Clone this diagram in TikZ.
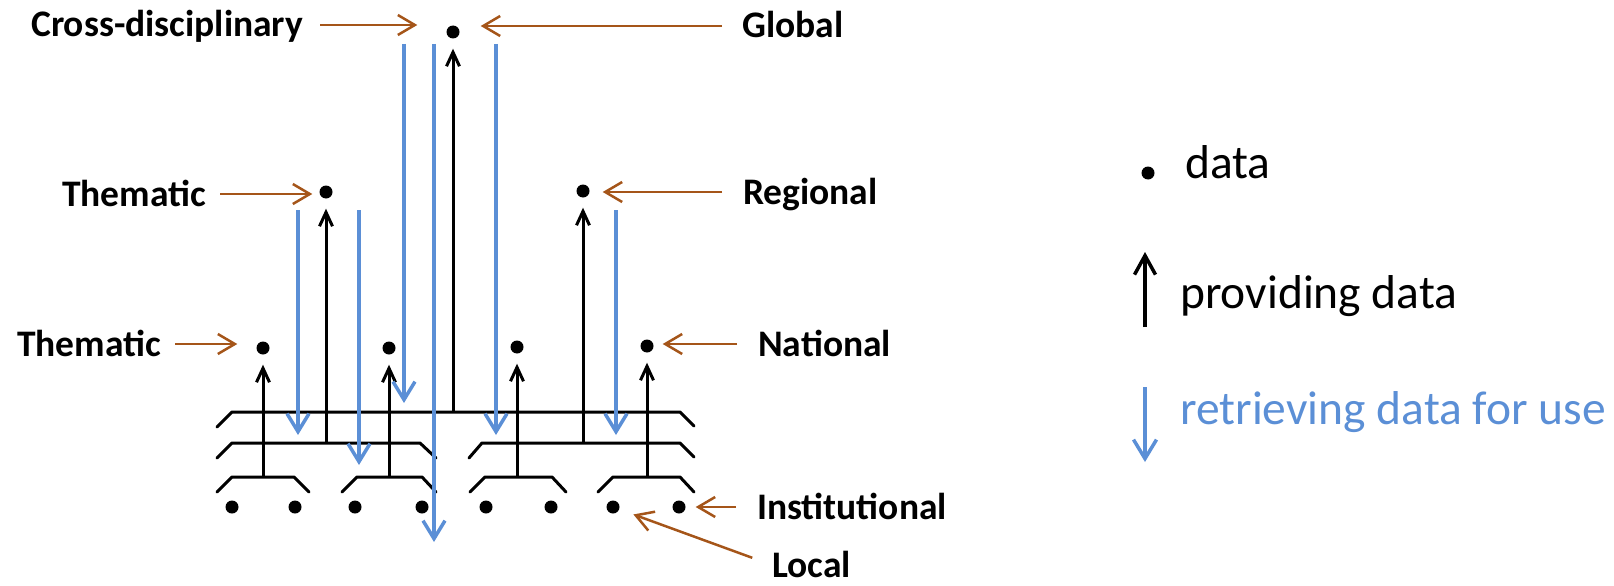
\documentclass[tikz,border=0pt]{standalone}
\usepackage{fontspec}
\setmainfont{Carlito}
\usetikzlibrary{arrows.meta}
\definecolor{useblue}{RGB}{91,143,214}
\definecolor{labbrown}{RGB}{165,85,25}
\begin{document}
\begin{tikzpicture}[x=1pt,y=-1pt,
  datum/.style={circle,fill=black,inner sep=0pt,minimum size=13pt},
  lbl/.style={inner sep=0pt,text height=24pt,text depth=0pt,
    font=\fontsize{37.5}{42}\selectfont\bfseries},
  legtext/.style={inner sep=0pt,anchor=base west,font=\fontsize{47.5}{54}\selectfont},
  bar/.style={line width=3pt,line join=round,line cap=round},
  provide/.style={line width=3pt,-{Straight Barb[length=14pt,width=13pt]},shorten >=10pt},
  retrieve/.style={useblue,line width=3.5pt,-{Straight Barb[length=18pt,width=22pt]}},
  pointer/.style={labbrown,line width=2.5pt,-{Straight Barb[length=17pt,width=20pt]}}]
\useasboundingbox (0,0) rectangle (1614,586);

% data points of the hierarchy
\node[datum] (g)  at (453,32)  {};
\node[datum] (t1) at (326,192) {};
\node[datum] (r1) at (583,191) {};
\node[datum] (n1) at (263,348) {};
\node[datum] (n2) at (389,348) {};
\node[datum] (n3) at (517,347) {};
\node[datum] (n4) at (647,346) {};
\foreach \x [count=\i] in {232,295,355,422,486,551,613,679}
  \node[datum] (l\i) at (\x,507) {};

% collecting bars
\draw[bar] (217,427) -- (232,412) -- (680,412) -- (694,426);
\draw[bar] (217,458) -- (232,443) -- (420,443) -- (436,458);
\draw[bar] (469,458) -- (482,443) -- (680,443) -- (694,457);
\draw[bar] (217,492) -- (232,477) -- (294,477) -- (309,492);
\draw[bar] (342,492) -- (357,477) -- (422,477) -- (436,492);
\draw[bar] (470,492) -- (485,477) -- (552,477) -- (566,492);
\draw[bar] (598,492) -- (613,477) -- (680,477) -- (694,492);

% junctions on the bars
\coordinate (j1) at (263,477);
\coordinate (j2) at (326,443);
\coordinate (j3) at (389,477);
\coordinate (j4) at (453,412);
\coordinate (j5) at (517,477);
\coordinate (j6) at (583,443);
\coordinate (j7) at (647,477);

% providing data upwards
\draw[provide] (j1) -- (n1);
\draw[provide] (j2) -- (t1);
\draw[provide] (j3) -- (n2);
\draw[provide] (j4) -- (g);
\draw[provide] (j5) -- (n3);
\draw[provide] (j6) -- (r1);
\draw[provide] (j7) -- (n4);

% retrieving data downwards
\coordinate (u1) at (298,210); \coordinate (d1) at (298,435);
\coordinate (u2) at (359,210); \coordinate (d2) at (359,465);
\coordinate (u3) at (404,44);  \coordinate (d3) at (404,403);
\coordinate (u4) at (434,44);  \coordinate (d4) at (434,542);
\coordinate (u5) at (496,44);  \coordinate (d5) at (496,435);
\coordinate (u6) at (616,210); \coordinate (d6) at (616,435);
\foreach \i in {1,...,6} \draw[retrieve] (u\i) -- (d\i);

% level labels
\node[lbl,anchor=west] (cd)  at (31,25)   {Cross-disciplinary};
\node[lbl,anchor=west] (gl)  at (742,26)  {Global};
\node[lbl,anchor=west] (th1) at (62,194)  {Thematic};
\node[lbl,anchor=west] (rg)  at (743,192) {Regional};
\node[lbl,anchor=west] (th2) at (17,344)  {Thematic};
\node[lbl,anchor=west] (na)  at (758,344) {National};
\node[lbl,anchor=west] (in)  at (757,507) {Institutional};
\node[lbl,anchor=west] (lo)  at (772,565) {Local};

\draw[pointer,shorten <=17pt,shorten >=29pt] (cd.east) -- (cd.east -| g.west);
\draw[pointer,shorten <=20pt,shorten >=21pt] (gl.west) -- (gl.west -| g.east);
\draw[pointer,shorten <=14pt,shorten >=7pt]  (th1.east) -- (th1.east -| t1.west);
\draw[pointer,shorten <=21pt,shorten >=13pt] (rg.west) -- (rg.west -| r1.east);
\draw[pointer,shorten <=14pt,shorten >=19pt] (th2.east) -- (th2.east -| n1.west);
\draw[pointer,shorten <=21pt,shorten >=9pt]  (na.west) -- (na.west -| n4.east);
\draw[pointer,shorten <=21pt,shorten >=10pt] (in.west) -- (in.west -| l8.east);
\draw[pointer,shorten <=21pt,shorten >=15pt] (lo.west) -- (l7);

% legend
\node[datum] (ld) at (1148,173) {};
\node[legtext] (ldt) at (1185,178) {data};
\coordinate (pa) at (1145,327); \coordinate (pb) at (1145,252);
\draw[line width=3.5pt,-{Straight Barb[length=19pt,width=21pt]}] (pa) -- (pb);
\node[legtext] (pdt) at (1180,308) {providing data};
\coordinate (ra) at (1145,387); \coordinate (rb) at (1145,462);
\draw[useblue,line width=3.5pt,-{Straight Barb[length=19pt,width=23pt]}] (ra) -- (rb);
\node[legtext,text=useblue] (rdt) at (1180,424) {retrieving data for use};
\end{tikzpicture}
\end{document}
